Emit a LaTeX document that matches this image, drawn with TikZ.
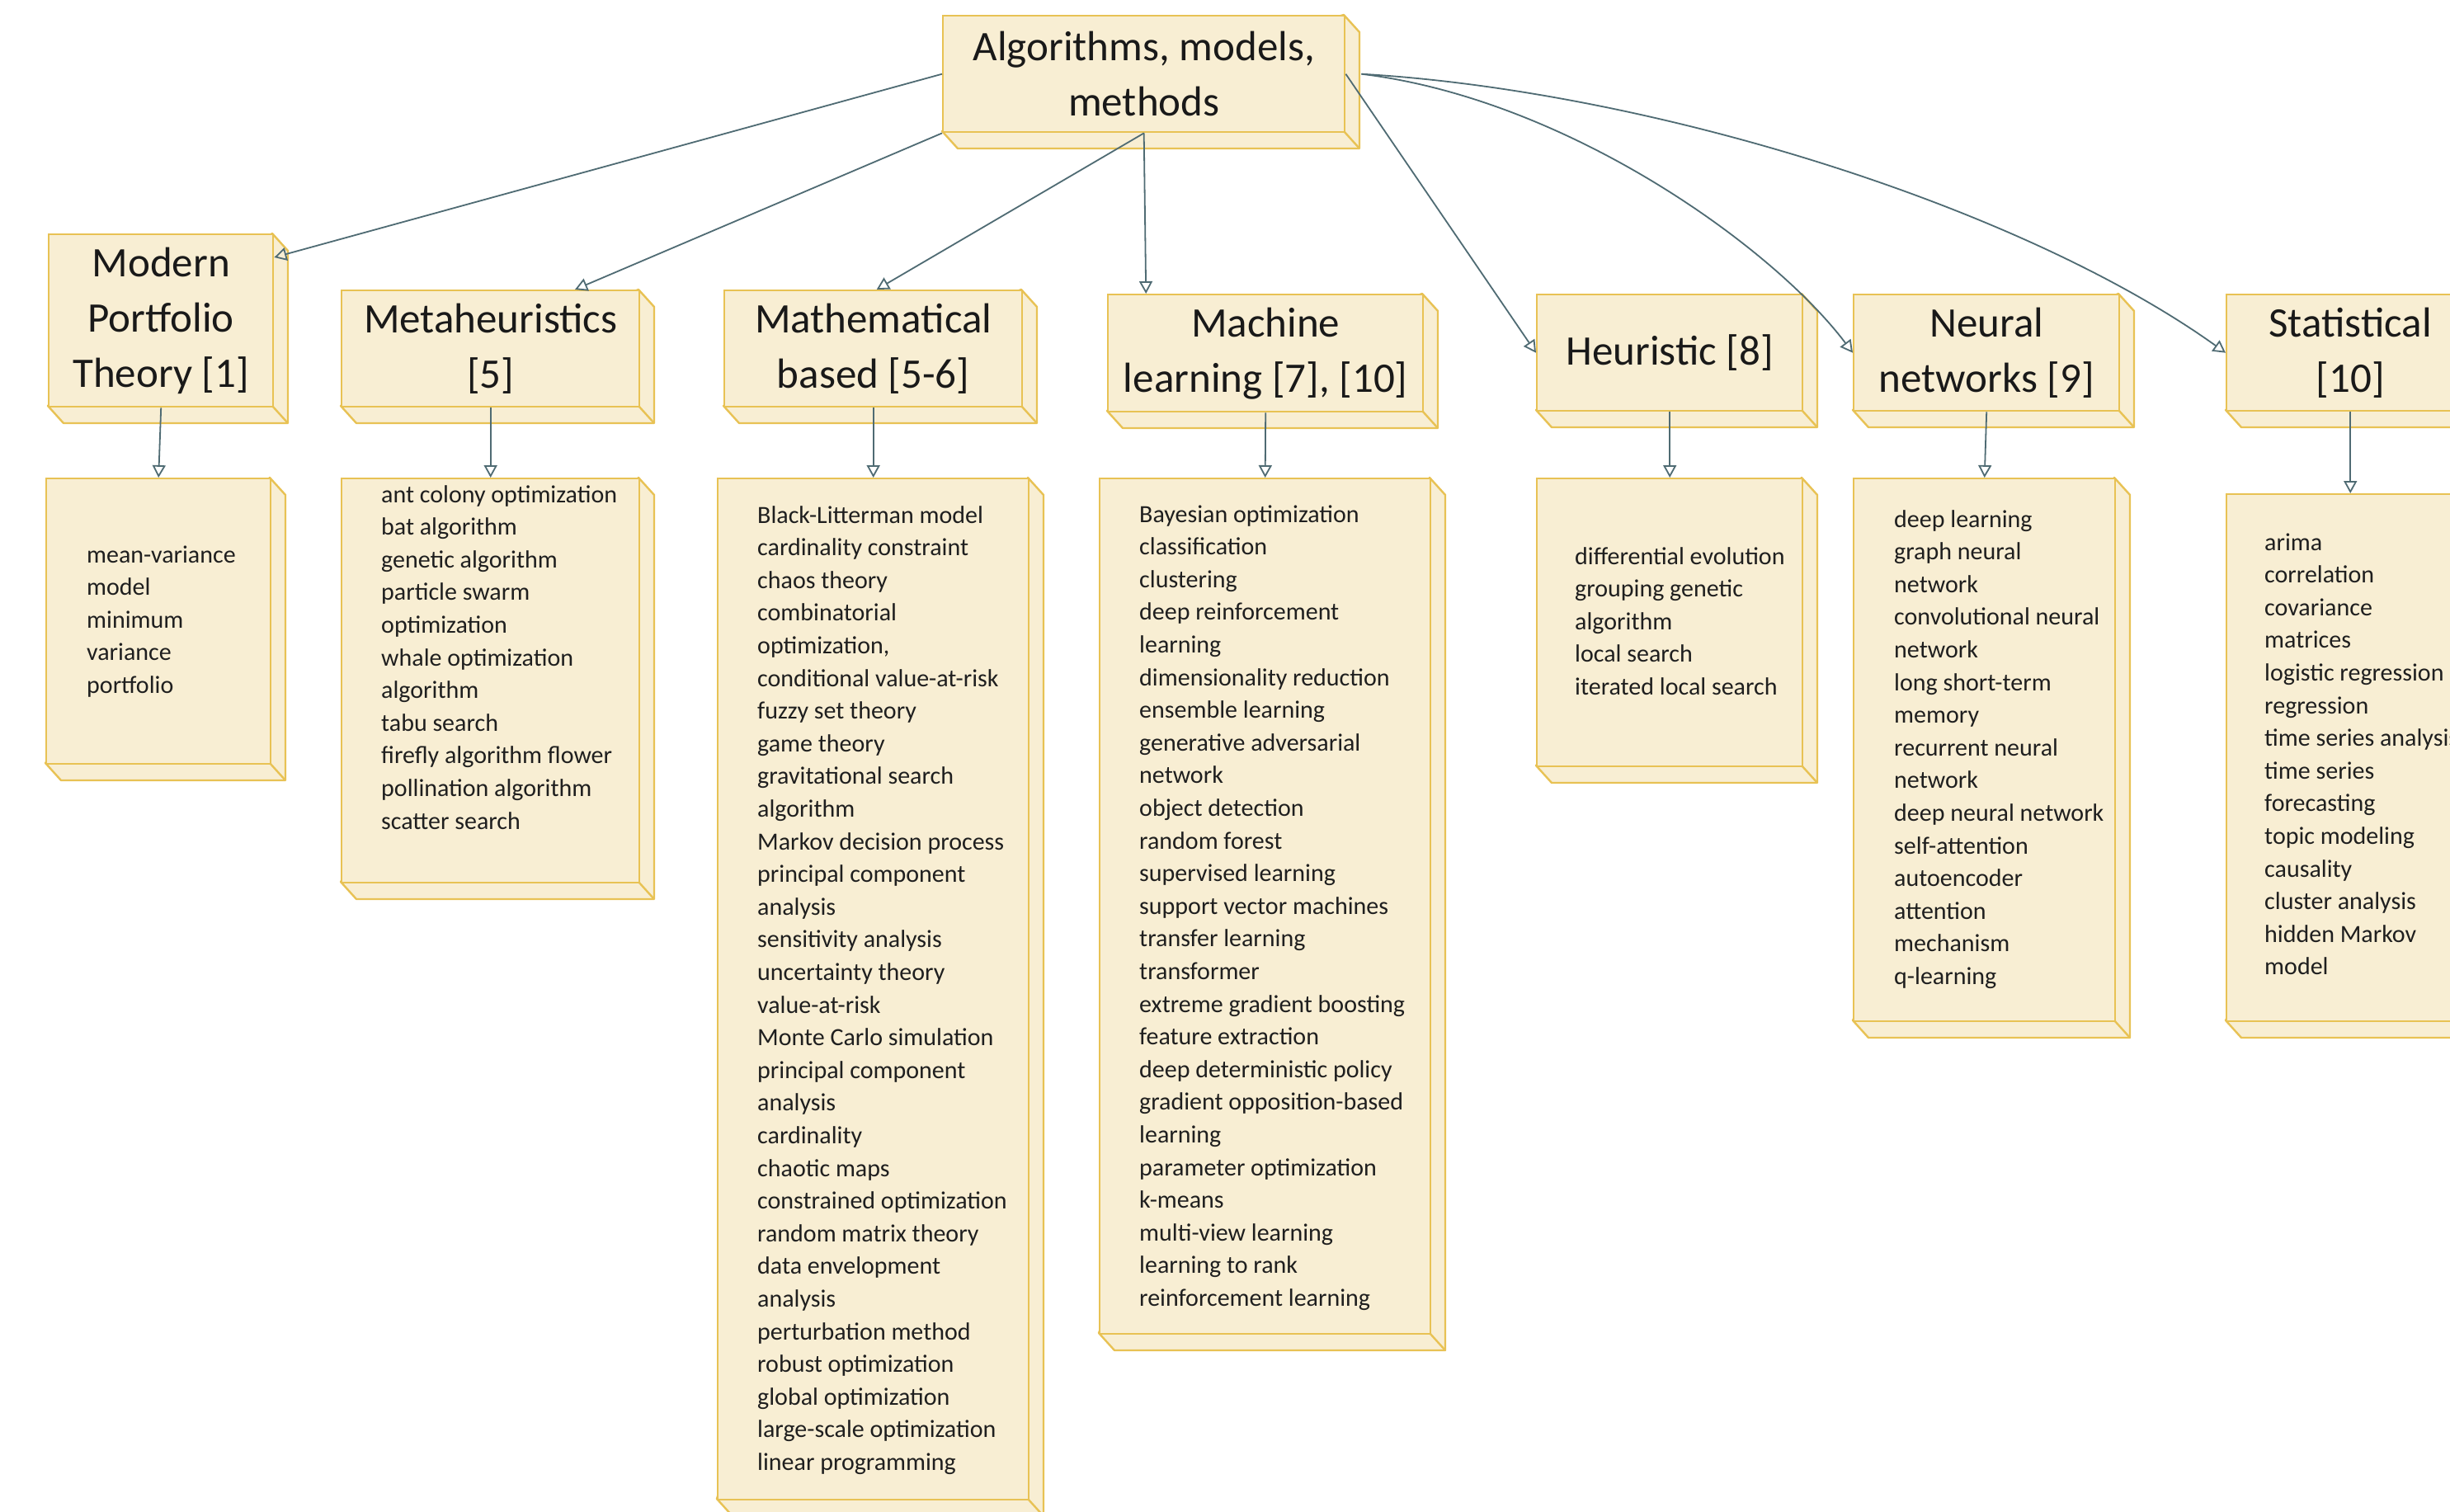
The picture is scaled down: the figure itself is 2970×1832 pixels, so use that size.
\documentclass[tikz,border=0pt]{standalone}
\usepackage{fontspec}
\setmainfont{Carlito}
\usetikzlibrary{arrows.meta}
\definecolor{boxfill}{HTML}{F8EED3}
\definecolor{boxline}{HTML}{E8C254}
\definecolor{connline}{HTML}{4F6B73}
\newcommand{\cube}[6]{%
  \filldraw[side] (#4,#3) -- (#4+19,#3+21) -- (#4+19,#5+21) -- (#2+19,#5+21) -- (#2,#5) -- cycle;
  \draw[side] (#4,#5) -- (#4+19,#5+21);
  \node[front, minimum width={#4-#2}, minimum height={#5-#3}] (#1) at (#2,#3) {#6};
}
\begin{document}
\begin{tikzpicture}[x=1pt,y=-1pt,
  front/.style={draw=boxline, fill=boxfill, line width=2.4pt, inner sep=0pt, anchor=north west, align=center, font=\fontsize{51}{67}\selectfont, text=black!90},
  side/.style={draw=boxline, fill=boxfill, line width=2.4pt, line join=round},
  conn/.style={draw=connline, line width=1.8pt, -{Triangle[open,length=15pt,width=16pt,line width=1.8pt]}},
  items/.style={anchor=base west, inner sep=0pt, font=\fontsize{30}{39.6}\selectfont, text=black!88}]
\useasboundingbox (0,0) rectangle (2970,1832);
\clip (0,0) rectangle (2970,1832);
\fill[white] (0,0) rectangle (2970,1832);

% top node
\cube{top}{1142}{18}{1629}{159}{Algorithms, models,\\methods}

% headers
\cube{mptH}{58}{283}{330}{492}{Modern\\Portfolio\\Theory [1]}
\cube{metaH}{413}{351}{774}{492}{Metaheuristics\\{[5]}}
\cube{mathH}{877}{351}{1238}{492}{Mathematical\\based [5-6]}
\cube{mlH}{1342}{356}{1724}{498}{Machine\\learning [7], [10]}
\cube{heurH}{1862}{356}{2184}{497}{Heuristic [8]}
\cube{nnH}{2246}{356}{2568}{497}{Neural\\networks [9]}
\cube{statH}{2698}{356}{2998}{497}{Statistical\\{[10]}}

% content boxes
\cube{mptC}{55}{579}{327}{925}{}
\cube{metaC}{413}{579}{774}{1069}{}
\cube{mathC}{869}{579}{1246}{1817}{}
\cube{mlC}{1332}{579}{1733}{1616}{}
\cube{heurC}{1862}{579}{2184}{928}{}
\cube{nnC}{2246}{579}{2563}{1237}{}
\cube{statC}{2698}{598}{2998}{1237}{}

% item lists
\node[items] (mptT) at (105,682) {\begin{tabular}[t]{@{}l@{}}mean-variance\\model\\minimum\\variance\\portfolio\end{tabular}};
\node[items] (metaT) at (462,609) {\begin{tabular}[t]{@{}l@{}}ant colony optimization\\bat algorithm\\genetic algorithm\\particle swarm\\optimization\\whale optimization\\algorithm\\tabu search\\firefly algorithm flower\\pollination algorithm\\scatter search\end{tabular}};
\node[items] (mathT) at (918,634) {\begin{tabular}[t]{@{}l@{}}Black-Litterman model\\cardinality constraint\\chaos theory\\combinatorial\\optimization,\\conditional value-at-risk\\fuzzy set theory\\game theory\\gravitational search\\algorithm\\Markov decision process\\principal component\\analysis\\sensitivity analysis\\uncertainty theory\\value-at-risk\\Monte Carlo simulation\\principal component\\analysis\\cardinality\\chaotic maps\\constrained optimization\\random matrix theory\\data envelopment\\analysis\\perturbation method\\robust optimization\\global optimization\\large-scale optimization\\linear programming\end{tabular}};
\node[items] (mlT) at (1381,633) {\begin{tabular}[t]{@{}l@{}}Bayesian optimization\\classification\\clustering\\deep reinforcement\\learning\\dimensionality reduction\\ensemble learning\\generative adversarial\\network\\object detection\\random forest\\supervised learning\\support vector machines\\transfer learning\\transformer\\extreme gradient boosting\\feature extraction\\deep deterministic policy\\gradient opposition-based\\learning\\parameter optimization\\k-means\\multi-view learning\\learning to rank\\reinforcement learning\end{tabular}};
\node[items] (heurT) at (1909,684) {\begin{tabular}[t]{@{}l@{}}differential evolution\\grouping genetic\\algorithm\\local search\\iterated local search\end{tabular}};
\node[items] (nnT) at (2296,639) {\begin{tabular}[t]{@{}l@{}}deep learning\\graph neural\\network\\convolutional neural\\network\\long short-term\\memory\\recurrent neural\\network\\deep neural network\\self-attention\\autoencoder\\attention\\mechanism\\q-learning\end{tabular}};
\node[items] (statT) at (2745,667) {\begin{tabular}[t]{@{}l@{}}arima\\correlation\\covariance\\matrices\\logistic regression\\regression\\time series analysis\\time series\\forecasting\\topic modeling\\causality\\cluster analysis\\hidden Markov\\model\end{tabular}};

% connectors from top
\draw[conn] (top.west) -- ([yshift=-29pt]mptH.north east);
\draw[conn] (top.south west) -- ([xshift=284pt]metaH.north west);
\draw[conn] (top.south) -- ([xshift=4pt]mathH.north);
\draw[conn] (top.south) -- ([xshift=-145pt]mlH.north);
\draw[conn] (top.east) -- (heurH.west);
\draw[conn] ([xshift=19pt]top.east) .. controls (1900,120) and (2150,300) .. (nnH.west);
\draw[conn] ([xshift=19pt]top.east) .. controls (2000,110) and (2450,250) .. (statH.west);

% header to content
\draw[conn] (mptH.south) -- (mptC.north);
\draw[conn] (metaH.south) -- (metaC.north);
\draw[conn] (mathH.south) -- (mathC.north);
\draw[conn] (mlH.south) -- (mlC.north);
\draw[conn] (heurH.south) -- (heurC.north);
\draw[conn] (nnH.south) -- (nnC.north);
\draw[conn] (statH.south) -- (statC.north);
\end{tikzpicture}
\end{document}
